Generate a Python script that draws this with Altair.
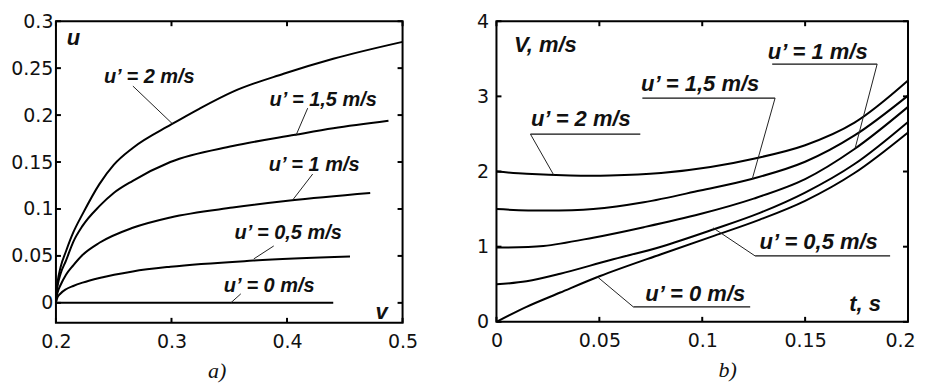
import altair as alt
import pandas as pd

# ---------------- panel a) : u versus v ----------------
a_v_2 = [0.2, 0.2005, 0.2014, 0.204, 0.2087, 0.215, 0.223, 0.2376, 0.25, 0.2665, 0.2998, 0.3244, 0.3533, 0.397, 0.44, 0.5]
a_u_2 = [0.0, 0.012, 0.022, 0.038, 0.055, 0.075, 0.0945, 0.1265, 0.147, 0.165, 0.19, 0.207, 0.225, 0.244, 0.26, 0.278]
a_v_15 = [0.2, 0.2005, 0.2014, 0.204, 0.2087, 0.215, 0.223, 0.2376, 0.25, 0.2665, 0.299, 0.353, 0.407, 0.44, 0.4878]
a_u_15 = [0.0, 0.01, 0.018, 0.031, 0.045, 0.065, 0.082, 0.103, 0.117, 0.13, 0.15, 0.167, 0.179, 0.186, 0.194]
a_v_1 = [0.2, 0.2005, 0.2014, 0.204, 0.2087, 0.215, 0.223, 0.2376, 0.2665, 0.299, 0.353, 0.4025, 0.472]
a_u_1 = [0.0, 0.006, 0.011, 0.019, 0.03, 0.04, 0.051, 0.064, 0.08, 0.091, 0.1015, 0.109, 0.117]
a_v_05 = [0.2, 0.2005, 0.2014, 0.204, 0.2087, 0.215, 0.223, 0.2376, 0.2665, 0.299, 0.3707, 0.4545]
a_u_05 = [0.0, 0.003, 0.006, 0.01, 0.0145, 0.018, 0.0215, 0.0265, 0.0335, 0.0385, 0.045, 0.0494]
a_v_0 = [0.2, 0.44]
a_u_0 = [0.0, 0.0]

a_labels = ["u’ = 2 m/s", "u’ = 1,5 m/s", "u’ = 1 m/s", "u’ = 0,5 m/s", "u’ = 0 m/s"]
a_label_v = [0.2808, 0.4313, 0.4235, 0.401, 0.3846]
a_label_u = [0.241, 0.2165, 0.1463, 0.0739, 0.0176]
a_lead_v1 = [0.2666, 0.4179, 0.4222, 0.3885, 0.36]
a_lead_u1 = [0.2309, 0.2074, 0.1372, 0.0606, 0.0096]
a_lead_v2 = [0.3011, 0.4075, 0.4049, 0.3712, 0.3513]
a_lead_u2 = [0.1904, 0.1777, 0.1096, 0.0468, 0.0]

a_axis_names = ["u", "v"]
a_axis_name_v = [0.2151, 0.4818]
a_axis_name_u = [0.2819, -0.0096]

a_xticks = [0.2, 0.3, 0.4, 0.5]
a_yticks = [0, 0.05, 0.1, 0.15, 0.2, 0.25, 0.3]

# ---------------- panel b) : V versus t ----------------
b_t_2 = [0, 0.0146, 0.0358, 0.055, 0.08, 0.104, 0.125, 0.15, 0.174, 0.2]
b_V_2 = [2.0, 1.97, 1.947, 1.947, 1.98, 2.06, 2.17, 2.35, 2.65, 3.21]
b_t_15 = [0, 0.0228, 0.047, 0.0716, 0.099, 0.124, 0.15, 0.174, 0.2]
b_V_15 = [1.5, 1.48, 1.5, 1.59, 1.747, 1.9, 2.13, 2.48, 3.01]
b_t_1 = [0, 0.0228, 0.047, 0.0716, 0.099, 0.125, 0.15, 0.174, 0.2]
b_V_1 = [0.99, 1.01, 1.12, 1.26, 1.435, 1.64, 1.9, 2.3, 2.86]
b_t_05 = [0, 0.0146, 0.031, 0.055, 0.08, 0.106, 0.128, 0.15, 0.174, 0.2]
b_V_05 = [0.5, 0.54, 0.64, 0.82, 1.0, 1.235, 1.45, 1.72, 2.1, 2.66]
b_t_0 = [0, 0.0146, 0.031, 0.0504, 0.08, 0.106, 0.128, 0.15, 0.174, 0.2]
b_V_0 = [0.0, 0.2, 0.39, 0.61, 0.9, 1.147, 1.36, 1.61, 1.98, 2.52]

b_labels = ["u’ = 1 m/s", "u’ = 1,5 m/s", "u’ = 2 m/s", "u’ = 0,5 m/s", "u’ = 0 m/s"]
b_label_t = [0.1561, 0.099, 0.041, 0.1566, 0.0966]
b_label_V = [3.588, 3.163, 2.698, 1.063, 0.365]
b_under_t1 = [0.134, 0.0709, 0.0165, 0.1257, 0.0665]
b_under_t2 = [0.185, 0.1354, 0.0699, 0.1913, 0.1233]
b_under_V = [3.429, 2.977, 2.498, 0.877, 0.199]
b_lead_t1 = [0.185, 0.1354, 0.0165, 0.1257, 0.0665]
b_lead_V1 = [3.429, 2.977, 2.498, 0.877, 0.199]
b_lead_t2 = [0.1743, 0.1243, 0.0277, 0.1053, 0.049]
b_lead_V2 = [2.31, 1.90, 1.96, 1.25, 0.6]

b_axis_names = ["V, m/s", "t, s"]
b_axis_name_t = [0.0238, 0.1791]
b_axis_name_V = [3.681, 0.2326]

b_xticks = [0, 0.05, 0.1, 0.15, 0.2]
b_yticks = [0, 1, 2, 3, 4]

# ---------------- helpers ----------------
def curves(pairs):
    rows = []
    for name, xs, ys in pairs:
        for i, (x, y) in enumerate(zip(xs, ys)):
            rows.append({"series": name, "i": i, "x": x, "y": y})
    return pd.DataFrame(rows)

LABEL_FONT = "Liberation Sans"
TICK_FONT = "DejaVu Sans"


def panel(curve_df, lab_df, lead_df, names_df, xticks, yticks, xdom, ydom, w, h,
          title, title_x, ylabpad, label_size, interp, under_df=None, last_shift=None):
    xkw = {}
    if last_shift is not None:
        xkw["labelOffset"] = alt.condition(f"datum.value >= {xdom[1]}", alt.value(last_shift),
                                           alt.value(0))
    xaxis = alt.Axis(values=xticks, format="~g", labelFont=TICK_FONT, labelFontSize=19,
                     labelColor="#111", labelPadding=10, labelFlush=False, ticks=False,
                     domain=False, grid=False,
                     title=title, titleFont="Liberation Serif", titleFontStyle="italic",
                     titleFontWeight="normal", titleFontSize=22, titleColor="#111",
                     titleX=title_x, titleY=55, titleAlign="center", titleBaseline="alphabetic",
                     **xkw)
    yaxis = alt.Axis(values=yticks, format="~g", labelFont=TICK_FONT, labelFontSize=19,
                     labelColor="#111", labelPadding=ylabpad, labelFlush=False, ticks=False,
                     domain=False, grid=False, title=None)
    X = alt.X("x:Q", scale=alt.Scale(domain=xdom, nice=False, zero=False), axis=xaxis)
    Y = alt.Y("y:Q", scale=alt.Scale(domain=ydom, nice=False, zero=False), axis=yaxis)

    base_lines = alt.Chart(curve_df).mark_line(color="black", strokeWidth=2,
                                               interpolate=interp, clip=True).encode(
        x=X, y=Y, detail="series:N", order="i:Q")
    leaders = alt.Chart(lead_df).mark_rule(color="#222", strokeWidth=1).encode(
        x=X, y=Y, x2="x2:Q", y2="y2:Q")
    labels = alt.Chart(lab_df).mark_text(font=LABEL_FONT, fontStyle="italic", fontWeight="bold",
                                         fontSize=label_size, color="#111").encode(
        x=X, y=Y, text="label:N")
    names = alt.Chart(names_df).mark_text(font=LABEL_FONT, fontStyle="italic", fontWeight="bold",
                                          fontSize=22, color="#111").encode(
        x=X, y=Y, text="label:N")

    xt = pd.DataFrame({"x": xticks})
    yt = pd.DataFrame({"y": yticks})
    tk = dict(color="black", strokeWidth=2)
    t_bot = alt.Chart(xt).mark_rule(**tk).encode(x=X, y=alt.value(h), y2=alt.value(h - 5))
    t_top = alt.Chart(xt).mark_rule(**tk).encode(x=X, y=alt.value(0), y2=alt.value(5))
    t_left = alt.Chart(yt).mark_rule(**tk).encode(y=Y, x=alt.value(0), x2=alt.value(5))
    t_right = alt.Chart(yt).mark_rule(**tk).encode(y=Y, x=alt.value(w), x2=alt.value(w - 5))

    layers = [base_lines, leaders, labels, names, t_bot, t_top, t_left, t_right]
    if under_df is not None:
        unders = alt.Chart(under_df).mark_rule(color="#111", strokeWidth=1.2).encode(
            x=X, y=Y, x2="x2:Q")
        layers.insert(1, unders)
    return alt.layer(*layers).properties(width=w, height=h)


# panel a data frames
a_curves = curves([("2", a_v_2, a_u_2), ("1.5", a_v_15, a_u_15), ("1", a_v_1, a_u_1),
                   ("0.5", a_v_05, a_u_05), ("0", a_v_0, a_u_0)])
a_lab = pd.DataFrame({"label": a_labels, "x": a_label_v, "y": a_label_u})
a_lead = pd.DataFrame({"x": a_lead_v1, "y": a_lead_u1, "x2": a_lead_v2, "y2": a_lead_u2})
a_names = pd.DataFrame({"label": a_axis_names, "x": a_axis_name_v, "y": a_axis_name_u})

# panel b data frames
b_curves = curves([("2", b_t_2, b_V_2), ("1.5", b_t_15, b_V_15), ("1", b_t_1, b_V_1),
                   ("0.5", b_t_05, b_V_05), ("0", b_t_0, b_V_0)])
b_lab = pd.DataFrame({"label": b_labels, "x": b_label_t, "y": b_label_V})
b_lead = pd.DataFrame({"x": b_lead_t1, "y": b_lead_V1, "x2": b_lead_t2, "y2": b_lead_V2})
b_under = pd.DataFrame({"x": b_under_t1, "x2": b_under_t2, "y": b_under_V})
b_names = pd.DataFrame({"label": b_axis_names, "x": b_axis_name_t, "y": b_axis_name_V})

left = panel(a_curves, a_lab, a_lead, a_names, a_xticks, a_yticks, [0.2, 0.5], [-0.0213, 0.3],
             347, 302, "a)", 161, 3, 20, "monotone")
right = panel(b_curves, b_lab, b_lead, b_names, b_xticks, b_yticks, [0, 0.2], [0, 4],
              412, 301, "b)", 231, 8, 22, "catmull-rom", under_df=b_under, last_shift=-8)

chart = alt.hconcat(left, right, spacing=94, bounds="flush").properties(
    padding={"left": 1, "top": 3, "right": 0, "bottom": 0},
    background="white",
).configure_view(stroke="black", strokeWidth=2)

chart.save("out.html", embed_options={"renderer": "svg", "actions": False})
